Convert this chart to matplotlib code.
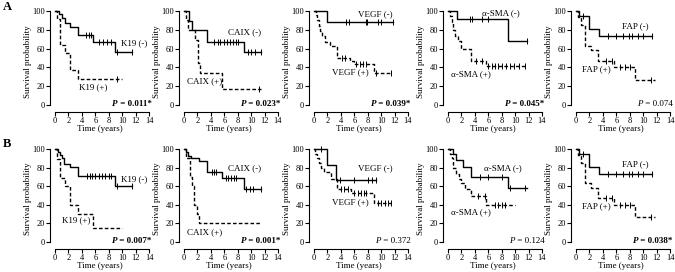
import numpy as np
import matplotlib
matplotlib.use("Agg")
import matplotlib.pyplot as plt
from matplotlib.offsetbox import TextArea, HPacker, AnnotationBbox

plt.rcParams['font.family'] = ['Liberation Serif', 'DejaVu Serif']

# ---------------- data ----------------
markers = ["K19", "CAIX", "VEGF", "\u03b1-SMA", "FAP"]
p_row_a = ["0.011*", "0.023*", "0.039*", "0.045*", "0.074"]
p_row_b = ["0.007*", "0.001*", "0.372", "0.124", "0.038*"]
x_ticks = [0, 2, 4, 6, 8, 10, 12, 14]
y_ticks = [0, 20, 40, 60, 80, 100]

# Row A
a1_neg_t = [0, 0.6, 1.0, 1.5, 2.3, 3.4, 5.7, 8.9]
a1_neg_s = [100, 97, 93, 87, 83, 74, 67, 56]
a1_neg_end = 11.5
a1_neg_cens = [4.6, 5.0, 5.4, 6.5, 7.2, 7.7, 8.3, 9.3, 11.5]
a1_pos_t = [0, 0.3, 0.8, 1.5, 2.3, 3.4]
a1_pos_s = [100, 91, 64, 55, 37, 28]
a1_pos_end = 10.0
a1_pos_cens = [9.3]

a2_neg_t = [0, 0.8, 1.2, 3.4, 8.9]
a2_neg_s = [100, 89, 80, 67, 56]
a2_neg_end = 11.5
a2_neg_cens = [4.5, 5.0, 5.4, 5.9, 6.4, 6.9, 7.3, 7.7, 8.1, 9.5, 10.0, 10.5, 11.5]
a2_pos_t = [0, 0.25, 0.6, 1.6, 2.1, 2.4, 5.6]
a2_pos_s = [100, 90, 80, 69, 45, 34, 17]
a2_pos_end = 11.5
a2_pos_cens = [11.2]

a3_neg_t = [0, 2.0]
a3_neg_s = [100, 88]
a3_neg_end = 11.8
a3_neg_cens = [4.7, 5.2, 7.7, 7.9, 9.5, 10.0, 11.8]
a3_pos_t = [0, 0.25, 0.5, 0.7, 0.9, 1.2, 1.7, 2.4, 3.4, 5.3, 5.9, 8.9]
a3_pos_s = [100, 96, 90, 84, 79, 73, 67, 63, 50, 47, 44, 34]
a3_pos_end = 11.5
a3_pos_cens = [4.1, 4.6, 6.3, 6.8, 7.3, 7.8, 9.3, 11.5]

a4_neg_t = [0, 1.3, 8.9]
a4_neg_s = [100, 91, 68]
a4_neg_end = 11.8
a4_neg_cens = [3.3, 3.5, 5.0, 6.0, 11.8]
a4_pos_t = [0, 0.3, 0.6, 0.8, 1.0, 1.5, 2.0, 3.4, 5.6]
a4_pos_s = [100, 95, 88, 80, 73, 68, 60, 47, 41]
a4_pos_end = 11.5
a4_pos_cens = [4.2, 5.0, 5.9, 6.5, 7.0, 7.5, 8.0, 8.6, 9.2, 9.8, 10.6, 11.5]

a5_neg_t = [0, 0.5, 2.0, 3.4]
a5_neg_s = [100, 95, 81, 73]
a5_neg_end = 11.3
a5_neg_cens = [1.0, 4.8, 6.0, 7.0, 7.9, 8.3, 9.3, 10.0, 11.3]
a5_pos_t = [0, 0.3, 0.8, 1.3, 2.3, 3.3, 5.6, 8.8]
a5_pos_s = [100, 94, 85, 63, 58, 47, 40, 27]
a5_pos_end = 11.8
a5_pos_cens = [4.5, 5.3, 6.5, 7.3, 8.1, 11.2]

# Row B
b1_neg_t = [0, 0.4, 0.7, 1.0, 1.4, 2.3, 3.4, 8.9]
b1_neg_s = [100, 97, 94, 90, 84, 81, 71, 60]
b1_neg_end = 11.5
b1_neg_cens = [4.7, 5.2, 5.5, 6.0, 6.5, 7.0, 7.5, 8.0, 8.3, 9.3, 11.5]
b1_pos_t = [0, 0.35, 0.75, 1.5, 2.25, 3.4, 5.6]
b1_pos_s = [100, 89, 69, 60, 40, 30, 15]
b1_pos_end = 10.0
b1_pos_cens = []

b2_neg_t = [0, 0.3, 0.6, 1.0, 2.2, 3.4, 5.6, 8.9]
b2_neg_s = [100, 97, 93, 90, 87, 75, 69, 57]
b2_neg_end = 11.5
b2_neg_cens = [4.2, 4.5, 4.8, 6.2, 6.6, 7.0, 7.4, 7.8, 9.3, 9.8, 10.3, 11.5]
b2_pos_t = [0, 0.35, 0.85, 1.15, 1.5, 1.9, 2.25]
b2_pos_s = [100, 90, 70, 60, 40, 30, 20]
b2_pos_end = 11.5
b2_pos_cens = []

b3_neg_t = [0, 2.0, 3.3]
b3_neg_s = [100, 83, 67]
b3_neg_end = 9.2
b3_neg_cens = [1.0, 3.8, 6.0, 8.0, 8.6, 9.2]
b3_pos_t = [0, 0.2, 0.5, 0.8, 1.0, 1.5, 2.5, 3.4, 5.5, 9.0]
b3_pos_s = [100, 95, 90, 85, 80, 75, 68, 57, 53, 42]
b3_pos_end = 11.5
b3_pos_cens = [4.0, 4.5, 5.0, 6.0, 6.5, 7.0, 7.4, 7.8, 9.5, 10.0, 10.5, 11.0, 11.5]

b4_neg_t = [0, 0.75, 1.25, 2.25, 3.4, 8.9]
b4_neg_s = [100, 95, 88, 81, 70, 58]
b4_neg_end = 11.8
b4_neg_cens = [4.8, 6.0, 8.0, 9.3, 11.4]
b4_pos_t = [0, 0.3, 0.6, 0.8, 1.2, 1.6, 2.0, 2.5, 3.4, 5.6]
b4_pos_s = [100, 95, 90, 80, 73, 68, 63, 57, 50, 40]
b4_pos_end = 10.0
b4_pos_cens = [4.5, 5.5, 7.0, 7.5, 8.0, 8.5]

b5_neg_t = [0, 0.5, 2.0, 3.4]
b5_neg_s = [100, 95, 81, 73]
b5_neg_end = 11.3
b5_neg_cens = [1.0, 4.8, 6.0, 7.0, 7.9, 8.3, 9.3, 10.0, 11.3]
b5_pos_t = [0, 0.3, 0.8, 1.3, 2.3, 3.3, 5.6, 8.8]
b5_pos_s = [100, 94, 85, 63, 58, 47, 40, 27]
b5_pos_end = 11.8
b5_pos_cens = [4.5, 5.3, 6.5, 7.3, 8.1, 11.2]

# label positions (data coords) for "(-)" and "(+)" texts
row_a_neg_lab = [(9.8, 66), (6.6, 77), (6.6, 97), (5.0, 98), (6.9, 84)]
row_a_pos_lab = [(3.5, 19), (0.45, 25), (2.7, 35), (0.45, 33), (0.9, 38)]
row_b_neg_lab = [(9.8, 68), (6.6, 79), (6.6, 79), (5.4, 79), (6.9, 84)]
row_b_pos_lab = [(1.0, 23), (0.45, 11), (2.7, 43), (0.45, 32), (0.9, 38)]

# ---------------- layout ----------------
W, H = 675, 272
fig = plt.figure(figsize=(W / 100, H / 100), dpi=100)

spine_x = [50, 179, 309, 443, 571]
ax_w = 99
rows_px = [(11, 112), (149, 249)]

panels = {
    0: [(a1_neg_t, a1_neg_s, a1_neg_end, a1_neg_cens, a1_pos_t, a1_pos_s, a1_pos_end, a1_pos_cens),
        (a2_neg_t, a2_neg_s, a2_neg_end, a2_neg_cens, a2_pos_t, a2_pos_s, a2_pos_end, a2_pos_cens),
        (a3_neg_t, a3_neg_s, a3_neg_end, a3_neg_cens, a3_pos_t, a3_pos_s, a3_pos_end, a3_pos_cens),
        (a4_neg_t, a4_neg_s, a4_neg_end, a4_neg_cens, a4_pos_t, a4_pos_s, a4_pos_end, a4_pos_cens),
        (a5_neg_t, a5_neg_s, a5_neg_end, a5_neg_cens, a5_pos_t, a5_pos_s, a5_pos_end, a5_pos_cens)],
    1: [(b1_neg_t, b1_neg_s, b1_neg_end, b1_neg_cens, b1_pos_t, b1_pos_s, b1_pos_end, b1_pos_cens),
        (b2_neg_t, b2_neg_s, b2_neg_end, b2_neg_cens, b2_pos_t, b2_pos_s, b2_pos_end, b2_pos_cens),
        (b3_neg_t, b3_neg_s, b3_neg_end, b3_neg_cens, b3_pos_t, b3_pos_s, b3_pos_end, b3_pos_cens),
        (b4_neg_t, b4_neg_s, b4_neg_end, b4_neg_cens, b4_pos_t, b4_pos_s, b4_pos_end, b4_pos_cens),
        (b5_neg_t, b5_neg_s, b5_neg_end, b5_neg_cens, b5_pos_t, b5_pos_s, b5_pos_end, b5_pos_cens)],
}
p_vals = {0: p_row_a, 1: p_row_b}
neg_labs = {0: row_a_neg_lab, 1: row_b_neg_lab}
pos_labs = {0: row_a_pos_lab, 1: row_b_pos_lab}

FS_TICK = 6
FS_LAB = 6.5


def draw_km(ax, t, s, end, cens, ls, dashes=None):
    x = list(t) + [end]
    y = list(s) + [s[-1]]
    line, = ax.step(x, y, where='post', color='black', lw=1.0, ls=ls, clip_on=False)
    if dashes is not None:
        line.set_dashes(dashes)
    if cens:
        t_arr = np.array(t)
        cy = [s[np.searchsorted(t_arr, c, side='right') - 1] for c in cens]
        ax.plot(cens, cy, ls='none', marker='|', ms=3.8, mew=0.7, color='black', clip_on=False)


for r, (top, bot) in enumerate(rows_px):
    for i in range(5):
        left = spine_x[i]
        ax = fig.add_axes([left / W, (H - bot) / H, ax_w / W, (bot - top) / H])
        ax.set_xlim(-0.75, 14)
        ax.set_ylim(-7.5, 100)
        for sp in ['top', 'right']:
            ax.spines[sp].set_visible(False)
        ax.spines['left'].set_bounds(0, 100)
        ax.spines['bottom'].set_bounds(0, 14)
        ax.spines['left'].set_linewidth(0.8)
        ax.spines['bottom'].set_linewidth(0.8)
        ax.set_xticks(x_ticks)
        ax.set_yticks(y_ticks)
        ax.tick_params(direction='out', length=3, width=0.8, labelsize=FS_TICK)
        ax.tick_params(axis='x', pad=0.8)
        ax.tick_params(axis='y', pad=0.5)
        ax.set_xlabel('Time (years)', fontsize=FS_TICK + 0.5, labelpad=0)
        ax.set_ylabel('Survival probability', fontsize=FS_TICK + 0.5, labelpad=0)
        ax.patch.set_visible(False)

        nt, ns, ne, nc, pt, ps, pe, pc = panels[r][i]
        draw_km(ax, nt, ns, ne, nc, '-')
        draw_km(ax, pt, ps, pe, pc, '--', dashes=(2.6, 1.6))

        nx, ny = neg_labs[r][i]
        ax.text(nx, ny, f"{markers[i]} (-)", fontsize=FS_LAB, ha='left', va='center', clip_on=False)
        px, py = pos_labs[r][i]
        ax.text(px, py, f"{markers[i]} (+)", fontsize=FS_LAB, ha='left', va='center', clip_on=False)

        pv = p_vals[r][i]
        bold = pv.endswith('*')
        wt = 'bold' if bold else 'normal'
        ta1 = TextArea("P", textprops=dict(fontsize=FS_TICK + 0.5, style='italic', weight=wt))
        ta2 = TextArea(f" = {pv}", textprops=dict(fontsize=FS_TICK + 0.5, weight=wt))
        box = HPacker(children=[ta1, ta2], align='baseline', pad=0, sep=0)
        ab = AnnotationBbox(box, (14.4, 1), xycoords='data', box_alignment=(1, 0.5),
                            frameon=False, pad=0, annotation_clip=False)
        ax.add_artist(ab)

fig.text(3 / W, 1 - 7 / H, 'A', fontsize=9, weight='bold', ha='left', va='center')
fig.text(3 / W, 1 - 144 / H, 'B', fontsize=9, weight='bold', ha='left', va='center')

fig.savefig('out.png', dpi=100)
